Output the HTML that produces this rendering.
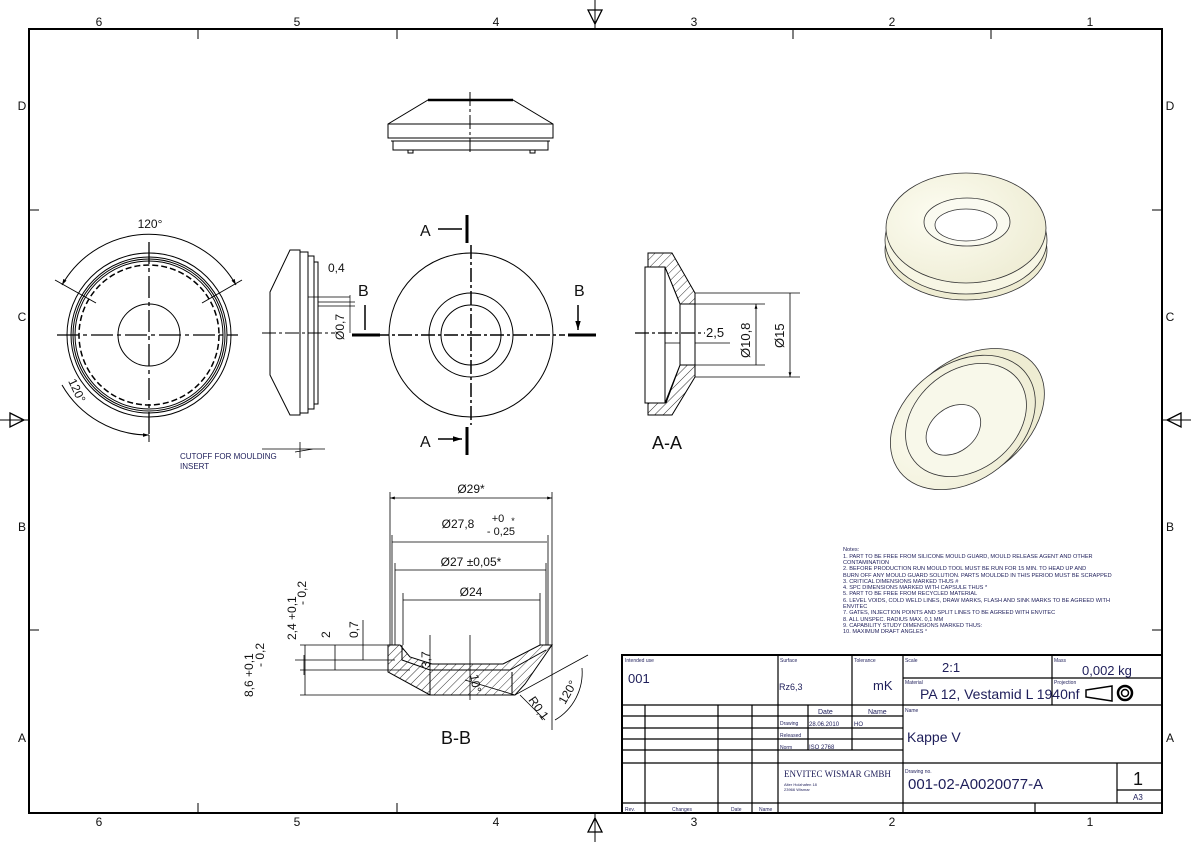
<!DOCTYPE html>
<html><head><meta charset="utf-8"><style>
html,body{margin:0;padding:0;background:#fff}
svg{display:block;font-family:"Liberation Sans",sans-serif}
.t{fill:#111}.n{fill:#1e1e5a}
</style></head><body>
<svg width="1191" height="842" viewBox="0 0 1191 842" xmlns="http://www.w3.org/2000/svg">
<defs>
<pattern id="h" width="6" height="6" patternUnits="userSpaceOnUse" patternTransform="rotate(45)"><line x1="0" y1="0" x2="0" y2="6" stroke="#000" stroke-width="0.8"/></pattern>
<marker id="a" viewBox="0 0 10 10" refX="10" refY="5" markerWidth="6" markerHeight="6" orient="auto-start-reverse"><path d="M0,2L10,5L0,8z" fill="#000"/></marker>
<radialGradient id="g" cx="0.35" cy="0.4" r="0.8"><stop offset="0" stop-color="#fdfdf2"/><stop offset="1" stop-color="#ecead0"/></radialGradient>
</defs>
<rect x="29" y="29" width="1133" height="784" fill="none" stroke="#000" stroke-width="2"/>
<g stroke="#000" stroke-width="1">
<path d="M198,29V39M397,29V39M793,29V39M991,29V39M198,813V803M397,813V803M793,813V803M991,813V803M29,210H39M29,630H39M1162,210H1152M1162,630H1152"/>
<path d="M595,0V29M595,813V842M0,420H29M1162,420H1191"/>
</g>
<g fill="none" stroke="#000" stroke-width="1.3"><path d="M588,10L595,24L602,10Z M588,832L595,818L602,832Z M10,413L24,420L10,427Z M1181,413L1167,420L1181,427Z"/></g>
<g class="t" font-size="12" text-anchor="middle">
<text x="99" y="26">6</text><text x="297" y="26">5</text><text x="496" y="26">4</text><text x="694" y="26">3</text><text x="892" y="26">2</text><text x="1090" y="26">1</text>
<text x="99" y="826">6</text><text x="297" y="826">5</text><text x="496" y="826">4</text><text x="694" y="826">3</text><text x="892" y="826">2</text><text x="1090" y="826">1</text>
<text x="22" y="110">D</text><text x="22" y="321">C</text><text x="22" y="531">B</text><text x="22" y="742">A</text>
<text x="1170" y="110">D</text><text x="1170" y="321">C</text><text x="1170" y="531">B</text><text x="1170" y="742">A</text>
</g>

<!-- top view -->
<g fill="none" stroke="#000" stroke-width="1">
<path d="M428,100H513L553,124V138H388V124Z" />
<path d="M428,100H513" stroke-width="2.5"/>
<path d="M388,124H553M388,138H553M391,141H550M393,141V150H548V141"/>
<path d="M408,150v3h5v-3M530,150v3h5v-3"/>
<path d="M470,92V155" stroke-dasharray="14,3,3,3"/>
</g>

<!-- front view -->
<g fill="none" stroke="#000" stroke-width="1">
<circle cx="149" cy="335" r="82"/>
<circle cx="149" cy="335" r="78"/><circle cx="149" cy="335" r="76"/><circle cx="149" cy="335" r="74"/>
<circle cx="149" cy="335" r="70" stroke-dasharray="6,3" stroke-width="1.5"/>
<circle cx="149" cy="335" r="31"/>
<path d="M57,335H238M149,242V437" stroke-dasharray="22,4,4,4" stroke-width="1.3"/>
<path d="M62,285A100,100 0 0 1 236,285" marker-start="url(#a)" marker-end="url(#a)"/>
<path d="M62,385A100,100 0 0 0 149,435" marker-end="url(#a)"/>
<path d="M55,280L96,303M242,280L202,303M149,435V442"/>
</g>
<text x="150" y="228" class="t" font-size="12" text-anchor="middle">120°</text>
<text x="68" y="381" class="t" font-size="12" transform="rotate(65 68 381)">120°</text>
<text x="180" y="459" class="n" font-size="8">CUTOFF FOR MOULDING</text>
<text x="180" y="469" class="n" font-size="8">INSERT</text>
<path d="M262,449H325M295,452L313,449M300,442V458" stroke="#000" stroke-width="0.8" fill="none"/>

<!-- side view -->
<g fill="none" stroke="#000" stroke-width="1">
<path d="M290,250H300V415H290L270,375V292Z"/>
<path d="M300,252H308V413H300M308,256H314V409H308M314,262H318V404H314"/>
<path d="M262,333H335" stroke-dasharray="14,3,3,3"/>
<path d="M308,297H350M318,296V305M318,302H355M318,306H355M350,295V333" stroke-width="0.7"/>
</g>
<text x="328" y="272" class="t" font-size="12">0,4</text>
<text x="344" y="340" class="t" font-size="12" transform="rotate(-90 344 340)">Ø0,7</text>

<!-- middle view -->
<g fill="none" stroke="#000" stroke-width="1">
<circle cx="471" cy="335" r="82"/><circle cx="471" cy="335" r="42"/><circle cx="471" cy="335" r="30"/>
<path d="M375,335H565M471,245V425" stroke-dasharray="14,3,3,3" stroke-width="1.5"/>
<path d="M467,215V243M467,427V455" stroke-width="3"/>
<path d="M352,335H380M568,335H596" stroke-width="3"/>
<path d="M438,229H462M438,439H462" stroke-width="1.5" marker-end="url(#a)"/>
<path d="M365,305V330M578,305V330" stroke-width="1.5" marker-end="url(#a)"/>
</g>
<text x="420" y="236" class="t" font-size="16">A</text><text x="420" y="447" class="t" font-size="16">A</text>
<text x="358" y="296" class="t" font-size="16">B</text><text x="574" y="296" class="t" font-size="16">B</text>

<!-- A-A -->
<g stroke="#000" stroke-width="1">
<path d="M648,253H672L695,293V304H680L666,270V403L680,365H695V377L672,415H648V403H645V267H648Z" fill="url(#h)"/>
<path d="M645,267H665V403H645Z M665,267L680,304V365L665,403" fill="#fff"/>
<path d="M680,304H695V365H680Z" fill="#fff"/>
<g fill="none" stroke-width="0.8">
<path d="M695,293H800M695,377H800M695,304H765M695,365H765"/>
<path d="M756,304V365M790,293V377" marker-start="url(#a)" marker-end="url(#a)"/>
<path d="M665,343H680M695,343H730" />
<path d="M635,333H705" stroke-dasharray="14,3,3,3" stroke-width="1.2"/>
</g></g>
<text x="706" y="337" class="t" font-size="13">2,5</text>
<text x="750" y="358" class="t" font-size="13" transform="rotate(-90 750 358)">Ø10,8</text>
<text x="784" y="348" class="t" font-size="13" transform="rotate(-90 784 348)">Ø15</text>
<text x="667" y="449" class="t" font-size="18" text-anchor="middle">A-A</text>

<!-- 3D views -->
<g stroke="#333" stroke-width="0.8">
<ellipse cx="966" cy="250" rx="81" ry="50" fill="#eeecd2"/>
<ellipse cx="966" cy="240" rx="81" ry="54" fill="#f7f6e4"/>
<ellipse cx="966" cy="228" rx="80" ry="55" fill="url(#g)"/>
<ellipse cx="967" cy="222" rx="43" ry="24" fill="#fafaf0"/>
<ellipse cx="966" cy="225" rx="31" ry="16" fill="#fff"/>
<g transform="rotate(-38 966 420)">
<ellipse cx="970" cy="420" rx="84" ry="58" fill="#eeecd2"/>
<ellipse cx="962" cy="420" rx="80" ry="58" fill="url(#g)"/>
<ellipse cx="966" cy="420" rx="66" ry="50" fill="#f8f8ea"/>
<ellipse cx="950" cy="420" rx="30" ry="22" fill="#fff"/>
</g>
</g>

<!-- B-B -->
<g stroke="#000" stroke-width="1" fill="none">
<path d="M388,645H400L410,657L432,664H503L540,645H552L525,684L515,695H430L388,672Z" fill="url(#h)"/>
<path d="M402,645V660L430,670H510L546,650" />
<path d="M430,672V695M512,672V695" />
<path d="M390,498H552" marker-start="url(#a)" marker-end="url(#a)" stroke-width="0.8"/>
<path d="M390,492V645M552,492V730M392,542H547M395,570H546M403,600H540" stroke-width="0.8"/>
<path d="M392,535V645M548,535V645M395,563V645M546,563V645M403,593V645M540,593V645" stroke-width="0.8"/>
<path d="M300,645H390M300,695H430M295,660H395M300,670H410" stroke-width="0.8"/>
<path d="M305,645V695M335,645V670M304,655V675M363,620V660M430,635V672" stroke-width="0.8"/>
<path d="M470,635V700M465,680L515,695L588,655" stroke-width="0.8"/>
<path d="M582,668A55,55 0 0 1 555,720" stroke-width="0.8"/>
<path d="M520,695L545,720" stroke-width="0.8"/>
</g>
<g class="t" font-size="12" text-anchor="middle">
<text x="471" y="493">Ø29*</text>
<text x="458" y="528">Ø27,8</text><text x="498" y="522" font-size="11">+0</text><text x="501" y="535" font-size="11">- 0,25</text><text x="513" y="524" font-size="9">*</text>
<text x="471" y="566">Ø27 ±0,05*</text>
<text x="471" y="596">Ø24</text>
<text x="456" y="744" font-size="18">B-B</text>
</g>
<g class="t" font-size="12">
<text x="296" y="640" transform="rotate(-90 296 640)">2,4 +0,1</text>
<text x="306" y="605" transform="rotate(-90 306 605)">- 0,2</text>
<text x="330" y="638" transform="rotate(-90 330 638)">2</text>
<text x="358" y="638" transform="rotate(-90 358 638)">0,7</text>
<text x="430" y="668" transform="rotate(-90 430 668)">3,7</text>
<text x="253" y="697" transform="rotate(-90 253 697)">8,6 +0,1</text>
<text x="264" y="667" transform="rotate(-90 264 667)">- 0,2</text>
<text x="470" y="675" transform="rotate(80 470 675)">10°</text>
<text x="528" y="700" transform="rotate(55 528 700)">R0,1</text>
<text x="565" y="705" transform="rotate(-60 565 705)">120°</text>
</g>

<!-- notes -->
<g class="n" font-size="5.6">
<text x="843" y="551">Notes:</text>
<text x="843" y="558">1. PART TO BE FREE FROM SILICONE MOULD GUARD, MOULD RELEASE AGENT AND OTHER</text>
<text x="843" y="564">CONTAMINATION</text>
<text x="843" y="570">2. BEFORE PRODUCTION RUN MOULD TOOL MUST BE RUN FOR 15 MIN. TO HEAD UP AND</text>
<text x="843" y="577">BURN OFF ANY MOULD GUARD SOLUTION. PARTS MOULDED IN THIS PERIOD MUST BE SCRAPPED</text>
<text x="843" y="583">3. CRITICAL DIMENSIONS MARKED THUS #</text>
<text x="843" y="589">4. SPC DIMENSIONS MARKED WITH CAPSULE THUS *</text>
<text x="843" y="595">5. PART TO BE FREE FROM RECYCLED MATERIAL</text>
<text x="843" y="602">6. LEVEL VOIDS, COLD WELD LINES, DRAW MARKS, FLASH AND SINK MARKS TO BE AGREED WITH</text>
<text x="843" y="608">ENVITEC</text>
<text x="843" y="614">7. GATES, INJECTION POINTS AND SPLIT LINES TO BE AGREED WITH ENVITEC</text>
<text x="843" y="621">8. ALL UNSPEC. RADIUS MAX. 0,1 MM</text>
<text x="843" y="627">9. CAPABILITY STUDY DIMENSIONS MARKED THUS:</text>
<text x="843" y="633">10. MAXIMUM DRAFT ANGLES °</text>
</g>

<!-- title block -->
<rect x="622" y="655" width="540" height="158" fill="#fff" stroke="#000" stroke-width="2"/>
<g stroke="#000" stroke-width="1.2" fill="none">
<path d="M622,705H903M903,678H1162M903,705H1162M622,716H903M622,728H903M622,739H903M622,750H903M622,763H1162M1117,790H1162M622,803H1162"/>
<path d="M778,655V813M852,655V705M903,655V813M1052,655V705M645,705V813M718,705V813M752,705V813M808,705V750M852,705V750M1117,763V803M1035,803V813"/>
</g>
<g class="n" font-size="5">
<text x="625" y="662">Intended use</text><text x="780" y="662">Surface</text><text x="854" y="662">Tolerance</text>
<text x="905" y="662">Scale</text><text x="1054" y="662">Mass</text><text x="905" y="684">Material</text><text x="1054" y="684">Projection</text>
<text x="905" y="712">Name</text><text x="780" y="725">Drawing</text><text x="780" y="737">Released</text><text x="780" y="749">Norm</text>
<text x="905" y="773">Drawing no.</text>
<text x="625" y="811">Rev.</text><text x="672" y="811">Changes</text><text x="731" y="811">Date</text><text x="759" y="811">Name</text>
</g>
<g class="n">
<text x="628" y="683" font-size="13">001</text>
<text x="779" y="690" font-size="9">Rz6,3</text>
<text x="873" y="690" font-size="13">mK</text>
<text x="942" y="672" font-size="13">2:1</text>
<text x="1082" y="675" font-size="13">0,002 kg</text>
<text x="920" y="699" font-size="14">PA 12, Vestamid L 1940nf</text>
<text x="818" y="714" font-size="7">Date</text><text x="868" y="714" font-size="7">Name</text>
<text x="809" y="726" font-size="6">28.06.2010</text><text x="854" y="726" font-size="6">HO</text>
<text x="809" y="749" font-size="6">ISO 2768</text>
<text x="907" y="742" font-size="14">Kappe V</text>
<text x="908" y="789" font-size="15">001-02-A0020077-A</text>
<text x="1133" y="785" font-size="18" class="t">1</text>
<text x="1133" y="800" font-size="8">A3</text>
<text x="784" y="777" font-size="9" font-family="Liberation Serif">ENVITEC WISMAR GMBH</text>
<text x="784" y="786" font-size="4">Alter Holzhafen 18</text><text x="784" y="791" font-size="4">23966 Wismar</text>
</g>
<g stroke="#000" stroke-width="1.5" fill="none">
<path d="M1112,686V701L1086,697V690Z"/><circle cx="1125" cy="693" r="7" stroke-width="2.5"/><circle cx="1125" cy="693" r="3.5"/>
</g>
</svg>
</body></html>
